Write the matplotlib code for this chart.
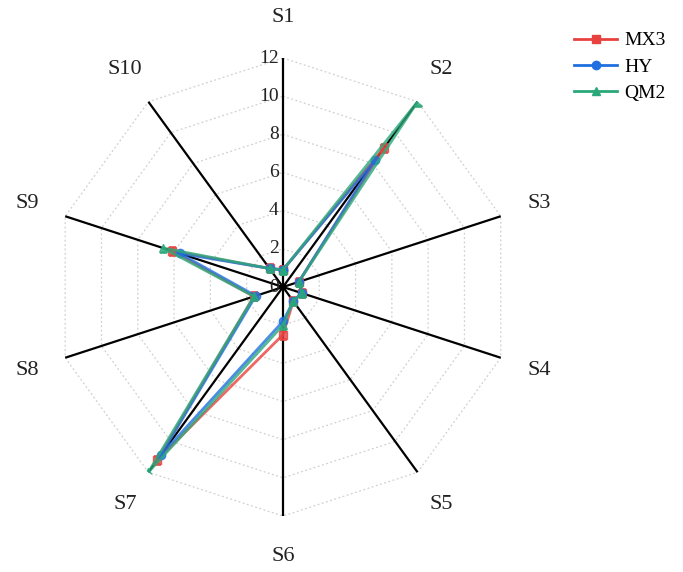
import numpy as np
import matplotlib
matplotlib.use("Agg")
import matplotlib.pyplot as plt

categories = ["S1", "S2", "S3", "S4", "S5", "S6", "S7", "S8", "S9", "S10"]
mx3 = [0.9, 9.0, 0.87, 1.03, 0.92, 2.5, 11.2, 1.6, 6.1, 1.2]
hy = [0.9, 8.2, 0.87, 1.03, 0.92, 1.8, 10.9, 1.5, 5.7, 1.2]
qm2 = [0.9, 12.0, 0.87, 1.03, 0.92, 2.0, 12.0, 1.6, 6.6, 1.2]
ticks = [0, 2, 4, 6, 8, 10, 12]
series_names = ["MX3", "HY", "QM2"]

plt.rcParams['font.family'] = ['Liberation Serif', 'DejaVu Serif']

fig = plt.figure(figsize=(6.83, 5.72), dpi=100)
ax = fig.add_axes([0.079, 0.0979, 0.6706, 0.8007], projection='polar')
ax.set_theta_zero_location('N')
ax.set_theta_direction(-1)
ax.set_ylim(0, 12)
ax.axis('off')

n = len(categories)
theta = np.arange(n) * 2 * np.pi / n
theta_c = np.append(theta, theta[0])

# polygon grid
for t in ticks[1:]:
    ax.plot(theta_c, [t] * (n + 1), color='#d0d0d0', lw=0.9, ls=(0, (1.5, 2)), zorder=1)
# spokes
for th in theta:
    ax.plot([th, th], [0, 12], color='black', lw=1.6, zorder=2)

colors = ['#e8423f', '#1f6fe0', '#2aa87a']
markers = ['s', 'o', '^']
for vals, name, c, m in zip([mx3, hy, qm2], series_names, colors, markers):
    v = np.append(vals, vals[0])
    ax.plot(theta_c, v, color=c, marker=m, markersize=6, lw=2, alpha=0.8,
            label=name, zorder=3)

# radial tick labels
for t in ticks:
    ax.annotate(str(t), xy=(0, t), xytext=(-3, 0), textcoords='offset points',
                ha='right', va='center', fontsize=14, color='#222222', zorder=4)

# category labels
for th, lab in zip(theta, categories):
    ax.text(th, 14.1, lab, ha='center', va='center', fontsize=16, color='#222222')

leg = fig.legend(loc='upper left', bbox_to_anchor=(0.815, 0.975), frameon=False,
                 fontsize=14, handlelength=2.2, labelspacing=0.45, handletextpad=0.4)
for h in leg.legend_handles:
    h.set_alpha(1.0)

fig.savefig('out.png', dpi=100)
